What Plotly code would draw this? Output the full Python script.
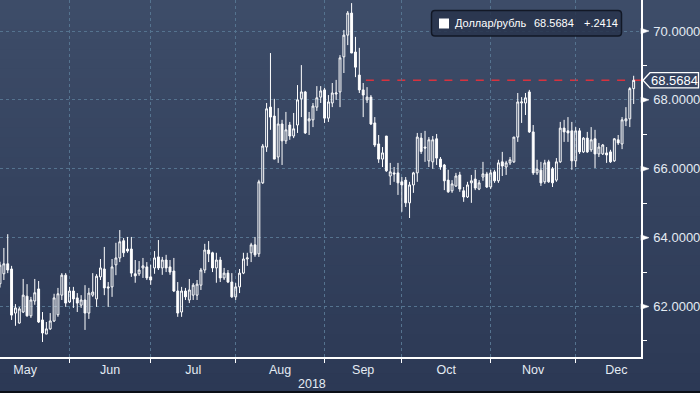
import plotly.graph_objects as go
import pandas as pd

# ---------------- data ----------------
series_name = "Доллар/рубль"
year_label = "2018"
month_names = ["May", "Jun", "Jul", "Aug", "Sep", "Oct", "Nov", "Dec"]
y_major = [62, 64, 66, 68, 70]
y_minor = [61, 63, 65, 67, 69]

opens = [62.66, 62.95, 63.24, 63.09, 61.81, 61.52, 61.84, 62.30, 61.73, 62.16,
         62.51, 61.61, 61.20, 61.35, 61.58, 61.76, 62.33, 62.91, 62.13, 62.45,
         62.25, 62.04, 62.19, 61.81, 62.33, 62.22, 62.86, 63.09, 62.57, 62.57,
         63.21, 63.41, 63.91, 63.67, 63.67, 62.95, 62.95, 63.12, 63.15, 62.86,
         63.12, 63.44, 63.12, 63.35, 63.15, 63.03, 62.45, 61.84, 62.45, 62.19,
         62.33, 62.33, 62.62, 63.06, 63.64, 63.56, 63.12, 63.35, 62.83, 62.97,
         62.71, 62.28, 62.57, 62.97, 63.38, 63.56, 63.79, 63.53, 65.59, 66.63,
         67.79, 67.53, 66.34, 67.30, 66.81, 67.27, 66.95, 67.27, 68.03, 68.23,
         67.39, 67.42, 67.79, 68.08, 68.29, 67.47, 67.91, 68.17, 68.23, 69.25,
         69.88, 70.52, 69.39, 68.72, 68.29, 68.00, 68.08, 67.33, 66.72, 66.28,
         66.95, 65.79, 65.88, 65.88, 65.62, 65.67, 65.01, 65.53, 65.88, 66.89,
         66.63, 66.23, 66.20, 66.87, 66.28, 66.11, 65.67, 65.36, 65.50, 65.82,
         65.36, 65.18, 65.59, 65.70, 65.41, 65.76, 65.85, 65.47, 65.91, 65.65,
         66.20, 66.05, 66.17, 66.20, 66.92, 67.91, 67.91, 68.23, 67.07, 65.88,
         65.96, 65.62, 66.20, 66.00, 65.67, 66.20, 67.18, 67.10, 67.10, 66.23,
         67.10, 66.49, 66.89, 66.55, 66.87, 66.43, 66.43, 66.46, 66.49, 66.23,
         66.84, 66.72, 67.39, 67.45, 68.327]
highs = [63.30, 63.70, 64.10, 63.18, 62.07, 61.99, 62.80, 62.65, 62.28, 62.80,
         62.74, 61.84, 61.55, 61.81, 62.37, 62.54, 62.97, 62.97, 62.57, 62.57,
         62.39, 62.33, 62.62, 62.54, 62.97, 62.94, 63.38, 63.73, 62.71, 63.38,
         63.85, 64.22, 63.99, 64.02, 64.02, 63.35, 63.32, 63.41, 63.29, 63.21,
         63.61, 63.93, 63.44, 63.50, 63.35, 63.41, 62.71, 62.57, 62.54, 62.80,
         62.68, 62.77, 63.12, 63.82, 63.90, 63.59, 63.56, 63.44, 63.12, 63.06,
         62.97, 62.68, 63.09, 63.56, 63.56, 63.85, 64.02, 65.68, 66.72, 67.91,
         69.36, 68.03, 67.76, 67.42, 67.65, 67.36, 67.62, 68.43, 69.01, 68.26,
         67.65, 67.91, 68.40, 68.40, 68.35, 68.14, 68.49, 68.58, 69.30, 70.03,
         70.58, 70.81, 69.83, 69.51, 68.49, 68.37, 68.14, 67.50, 66.98, 66.63,
         66.95, 66.17, 66.05, 66.17, 65.76, 65.76, 65.62, 65.91, 67.04, 67.04,
         67.10, 66.92, 66.95, 67.01, 66.34, 66.14, 65.97, 65.67, 65.88, 65.91,
         65.47, 65.62, 65.82, 65.97, 65.67, 66.20, 65.91, 65.97, 65.97, 66.26,
         66.49, 66.23, 66.34, 66.92, 68.20, 68.08, 68.20, 68.29, 67.27, 66.26,
         66.20, 66.26, 66.26, 66.05, 66.31, 67.36, 67.42, 67.50, 67.36, 67.21,
         67.18, 66.92, 67.07, 67.21, 67.13, 66.75, 66.72, 66.63, 66.55, 66.89,
         66.98, 67.50, 67.79, 68.37, 68.70]
lows = [62.55, 62.77, 62.97, 61.61, 61.44, 61.50, 61.81, 61.70, 61.67, 62.05,
        61.52, 60.97, 61.20, 61.32, 61.55, 61.70, 62.19, 61.99, 62.10, 61.96,
        61.84, 61.96, 61.32, 61.64, 62.28, 61.99, 62.77, 62.33, 61.99, 62.28,
        62.91, 63.29, 63.44, 63.56, 62.86, 62.69, 62.89, 62.83, 62.77, 62.63,
        62.95, 63.06, 62.92, 63.00, 62.92, 62.42, 61.70, 61.70, 62.19, 62.10,
        62.19, 62.19, 62.48, 62.97, 63.29, 63.00, 62.69, 62.71, 62.77, 62.68,
        62.25, 62.19, 62.39, 62.94, 63.18, 63.29, 63.44, 63.44, 65.56, 66.49,
        67.13, 66.28, 66.17, 66.11, 66.72, 66.84, 66.89, 67.04, 67.50, 67.01,
        66.98, 67.21, 67.68, 67.91, 67.33, 67.36, 67.79, 68.00, 67.79, 68.78,
        69.59, 69.36, 68.66, 68.20, 67.50, 67.91, 67.27, 66.63, 66.17, 66.05,
        65.91, 65.53, 65.62, 65.24, 64.75, 64.89, 64.57, 65.30, 65.62, 66.43,
        66.20, 66.05, 66.00, 66.11, 65.97, 65.38, 65.30, 65.30, 65.47, 65.33,
        65.04, 65.15, 65.01, 65.38, 65.38, 65.65, 65.44, 65.41, 65.59, 65.59,
        65.79, 65.82, 66.11, 66.17, 66.78, 67.33, 67.56, 67.04, 65.82, 65.82,
        65.50, 65.56, 65.59, 65.47, 65.62, 66.17, 66.78, 66.78, 65.97, 66.05,
        66.43, 66.46, 66.46, 66.49, 66.02, 66.34, 66.40, 66.17, 66.17, 66.20,
        66.69, 66.57, 67.24, 67.21, 67.88]
closes = [63.20, 63.24, 63.06, 61.75, 61.96, 61.93, 62.33, 61.73, 62.19, 62.40,
          61.55, 61.23, 61.35, 61.58, 62.25, 62.37, 62.91, 62.10, 62.45, 62.22,
          62.10, 62.19, 61.81, 62.39, 62.42, 62.88, 63.12, 62.54, 62.54, 63.15,
          63.41, 63.88, 63.56, 63.61, 62.97, 62.89, 63.06, 63.18, 62.83, 62.77,
          63.41, 63.12, 63.35, 63.12, 63.00, 62.45, 61.81, 62.45, 62.28, 62.48,
          62.62, 62.65, 63.06, 63.64, 63.53, 63.12, 63.35, 62.83, 62.97, 62.71,
          62.28, 62.57, 62.97, 63.38, 63.41, 63.79, 63.50, 65.62, 66.66, 67.74,
          67.50, 66.28, 67.30, 66.81, 67.13, 66.95, 67.16, 68.00, 68.23, 67.04,
          67.45, 67.82, 68.06, 68.26, 67.47, 67.94, 68.20, 68.20, 69.22, 69.88,
          70.52, 69.36, 68.95, 68.29, 68.14, 68.08, 67.30, 66.69, 66.28, 66.46,
          65.94, 65.91, 65.85, 65.59, 65.53, 65.01, 65.53, 65.88, 66.92, 66.50,
          66.60, 66.84, 66.84, 66.31, 66.05, 65.65, 65.33, 65.56, 65.79, 65.41,
          65.18, 65.53, 65.65, 65.44, 65.59, 65.85, 65.47, 65.88, 65.65, 66.17,
          66.08, 66.17, 66.26, 66.92, 67.94, 67.94, 68.06, 67.07, 65.88, 65.99,
          65.59, 66.17, 65.62, 65.59, 66.20, 67.18, 67.07, 67.04, 66.23, 67.10,
          66.49, 66.89, 66.49, 66.84, 66.43, 66.63, 66.69, 66.40, 66.20, 66.87,
          66.75, 67.42, 67.45, 68.327, 68.5684]

# trading days (weekdays) shown on the axis
dates = pd.bdate_range("2018-05-08", periods=len(closes))
idx = list(range(len(closes)))
all_days = pd.bdate_range("2018-05-01", "2019-01-01")
offset = all_days.get_loc(dates[0])
month_starts = pd.date_range("2018-05-01", "2019-01-01", freq="MS")
mpos = [int(all_days.searchsorted(m)) - offset for m in month_starts]
month_centers = [(mpos[i] + mpos[i + 1]) / 2 for i in range(len(month_names))]
month_bounds = mpos[1:len(month_names)]

last = closes[-1]
change = closes[-1] - closes[-2]
change_txt = f"{change:+.4f}".replace("0.", ".", 1)

# ---------------- layout geometry / style ----------------
W, H = 700, 393
ML, MR, MT, MB = 0, 59, 0, 36
PW, PH = W - ML - MR, H - MT - MB
XR = [0, 165.9]
YR = [60.534, 70.90]
UNIT = PH / (YR[1] - YR[0])  # px per rouble

def px_x(px):
    return (px - ML) / PW

def px_y(py):
    return 1 - (py - MT) / PH

WHITE = "#ffffff"
TXT = "#e4ebf3"
GRID = "#55738f"
FONT = "Liberation Sans, Arial, sans-serif"

shapes = []
# background gradient bands
top_c = (61, 76, 104)
bot_c = (44, 57, 85)
NB = 40
for i in range(NB):
    t = i / (NB - 1)
    c = tuple(round(top_c[k] + (bot_c[k] - top_c[k]) * t) for k in range(3))
    y0 = i * H / NB
    y1 = (i + 1) * H / NB + 0.6
    shapes.append(dict(type="rect", xref="paper", yref="paper", layer="below",
                       x0=px_x(-5), x1=px_x(W + 5), y0=px_y(y1), y1=px_y(y0),
                       fillcolor="rgb(%d,%d,%d)" % c, line=dict(width=0)))
# thin dark strip at the very bottom
shapes.append(dict(type="rect", xref="paper", yref="paper", layer="below",
                   x0=px_x(-5), x1=px_x(W + 5), y0=px_y(H + 5), y1=px_y(H - 2),
                   fillcolor="#0b0f16", line=dict(width=0)))

# right axis tick arrows
d = 2.8 / UNIT
for v in y_major:
    shapes.append(dict(type="path", xref="paper", yref="y", layer="above",
                       path=f"M {px_x(641)},{v + d} L {px_x(641)},{v - d} L {px_x(649)},{v} Z",
                       fillcolor=WHITE, line=dict(color=WHITE, width=0.5)))

# last price dashed line
shapes.append(dict(type="line", xref="x", yref="y", layer="below",
                   x0=94.7, x1=XR[1], y0=last, y1=last,
                   line=dict(color="#d8323e", width=1.5, dash="8px,7.7px")))

# last price tag
th = 7.6 / UNIT
tag = (f"M {px_x(643)},{last} L {px_x(650)},{last + th} L {px_x(698.5)},{last + th} "
       f"L {px_x(698.5)},{last - th} L {px_x(650)},{last - th} Z")
shapes.append(dict(type="path", xref="paper", yref="y", layer="above", path=tag,
                   fillcolor="#34425f", line=dict(color=WHITE, width=1.3)))

# legend box (rounded)
bx0, bx1, by0, by1, r = 431.5, 621.5, 10.5, 36, 3.5
def P(x, y):
    return f"{px_x(x)},{px_y(y)}"
legend_path = (f"M {P(bx0 + r, by0)} L {P(bx1 - r, by0)} Q {P(bx1, by0)} {P(bx1, by0 + r)} "
               f"L {P(bx1, by1 - r)} Q {P(bx1, by1)} {P(bx1 - r, by1)} "
               f"L {P(bx0 + r, by1)} Q {P(bx0, by1)} {P(bx0, by1 - r)} "
               f"L {P(bx0, by0 + r)} Q {P(bx0, by0)} {P(bx0 + r, by0)} Z")
shapes.append(dict(type="path", xref="paper", yref="paper", layer="above",
                   path=legend_path, fillcolor="rgba(40,52,76,0.85)",
                   line=dict(color="#121826", width=1.5)))
shapes.append(dict(type="rect", xref="paper", yref="paper", layer="above",
                   x0=px_x(439), x1=px_x(449), y0=px_y(28.5), y1=px_y(18.5),
                   fillcolor=WHITE, line=dict(width=0)))

LEG_FS = 11
annotations = [
    dict(xref="paper", yref="paper", x=px_x(453), y=px_y(23.5), xanchor="left",
         yanchor="middle", showarrow=False, text=series_name,
         font=dict(family=FONT, size=LEG_FS, color=WHITE)),
    dict(xref="paper", yref="paper", x=px_x(532), y=px_y(23.5), xanchor="left",
         yanchor="middle", showarrow=False, text=f"{last:.4f}",
         font=dict(family=FONT, size=LEG_FS, color=WHITE)),
    dict(xref="paper", yref="paper", x=px_x(582), y=px_y(23.5), xanchor="left",
         yanchor="middle", showarrow=False, text=change_txt,
         font=dict(family=FONT, size=LEG_FS, color=WHITE)),
    dict(xref="paper", yref="y", x=px_x(649), y=last, xanchor="left",
         yanchor="middle", showarrow=False, text=f"{last:.4f}",
         font=dict(family=FONT, size=13, color=WHITE)),
    dict(xref="paper", yref="paper", x=px_x(312), y=px_y(384), xanchor="center",
         yanchor="middle", showarrow=False, text=year_label,
         font=dict(family=FONT, size=12.5, color=TXT)),
]

fig = go.Figure(go.Candlestick(
    x=idx, open=opens, high=highs, low=lows, close=closes,
    customdata=[dt.strftime("%Y-%m-%d") for dt in dates],
    increasing=dict(line=dict(color=WHITE, width=1), fillcolor="rgba(0,0,0,0)"),
    decreasing=dict(line=dict(color=WHITE, width=1), fillcolor=WHITE),
    whiskerwidth=0, name=series_name, showlegend=False,
))

fig.update_layout(
    width=W, height=H, autosize=False,
    margin=dict(l=ML, r=MR, t=MT, b=MB, pad=0),
    paper_bgcolor="#34425f", plot_bgcolor="rgba(0,0,0,0)",
    font=dict(family=FONT, color=TXT),
    showlegend=False, hovermode=False,
    shapes=shapes, annotations=annotations,
    xaxis=dict(
        range=XR, rangeslider=dict(visible=False),
        tickvals=month_centers, ticktext=month_names, ticks="", showgrid=False,
        tickfont=dict(family=FONT, size=12.5, color=TXT),
        showline=True, linecolor=WHITE, linewidth=1.5, zeroline=False,
        minor=dict(tickvals=month_bounds, ticks="outside", ticklen=4,
                   tickcolor=WHITE, tickwidth=1, showgrid=True,
                   gridcolor=GRID, griddash="3px,3px", gridwidth=1),
        fixedrange=True,
    ),
    yaxis=dict(
        side="right", range=YR,
        tickvals=y_major, ticktext=[f"{v:.4f}" for v in y_major],
        ticks="outside", ticklen=8, tickcolor="rgba(0,0,0,0)",
        tickfont=dict(family=FONT, size=13, color=TXT),
        showgrid=True, gridcolor=GRID, griddash="3px,3px", gridwidth=1,
        showline=True, linecolor=WHITE, linewidth=1.5, zeroline=False,
        minor=dict(tickvals=y_minor, ticks="outside", ticklen=4,
                   tickcolor=WHITE, tickwidth=1, showgrid=False),
        fixedrange=True,
    ),
)

fig.write_html("out.html", config={"displayModeBar": False},
               post_script="document.body.style.margin='0';")
